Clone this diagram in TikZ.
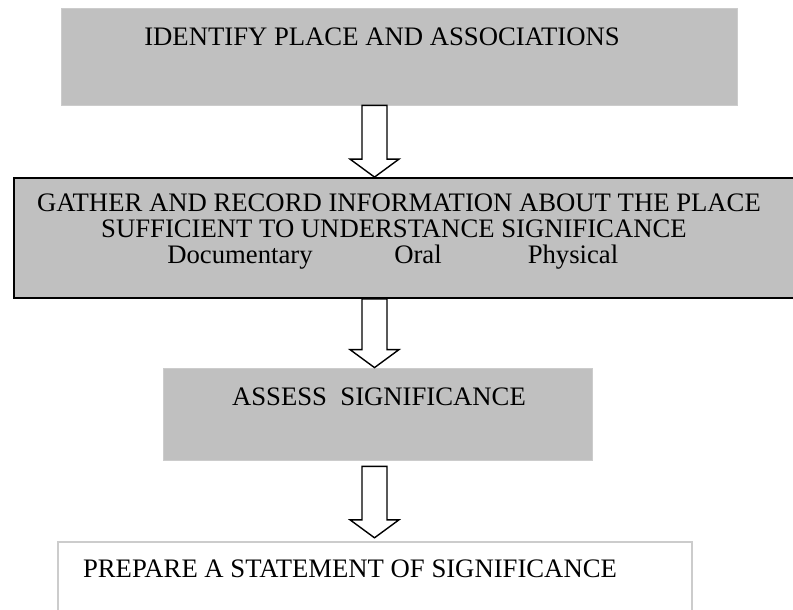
\documentclass[tikz,border=0pt]{standalone}
\usepackage{fontspec}
\setmainfont{Liberation Serif}
\usetikzlibrary{calc}

\definecolor{stagegrey}{RGB}{192,192,192}
\definecolor{edgegrey}{RGB}{204,204,204}

\newcommand{\hollowarrow}[2]{%
  \draw[flowarrow] let \p1=(#1), \p2=(#2) in
    (\x1-12.5pt,\y1) -- (\x1-12.5pt,\y2+18pt) -- (\x1-24.5pt,\y2+18pt) -- (\x2,\y2)
    -- (\x1+24.5pt,\y2+18pt) -- (\x1+12.5pt,\y2+18pt) -- (\x1+12.5pt,\y1) -- cycle;}

\begin{document}
\begin{tikzpicture}[x=1pt,y=-1pt]

\tikzset{stage/.style = {shape=rectangle,fill=stagegrey,draw=edgegrey,line width=0.8pt,inner sep=0pt}}
\tikzset{caption/.style = {inner sep=0pt,anchor=base,font=\fontsize{26.7}{25}\selectfont}}
\tikzset{flowarrow/.style = {draw=black,fill=white,line width=1.4pt,line join=miter}}
\tikzset{openbox/.style = {draw=edgegrey,line width=1.8pt}}

\useasboundingbox (0,0) rectangle (793,610);

%boxes
\node[stage, minimum width=676, minimum height=97] (identify) at (399,56.5) {};
\node[stage, draw=black, line width=1.8pt, minimum width=786, minimum height=120] (gather) at (407,238) {};
\node[stage, minimum width=429, minimum height=92] (assess) at (377.5,414) {};
\node[inner sep=0pt, minimum width=634, minimum height=73] (prepare) at (375,578.5) {};
\draw[openbox] (prepare.south west) -- (prepare.north west) -- (prepare.north east) -- (prepare.south east);

%texts
\node[caption] (identifytext) at (382,46) {IDENTIFY PLACE AND ASSOCIATIONS};
\node[caption] (gathertext) at (399,211) {GATHER AND RECORD INFORMATION ABOUT THE PLACE};
\node[caption] (sufficienttext) at (394,237) {SUFFICIENT TO UNDERSTANCE SIGNIFICANCE};
\node[caption] (documentary) at (240,263) {Documentary};
\node[caption] (oral) at (418,263) {Oral};
\node[caption] (physical) at (573,263) {Physical};
\node[caption] (assesstext) at (379,405) {ASSESS\ \ SIGNIFICANCE};
\node[caption] (preparetext) at (350,577) {PREPARE A STATEMENT OF SIGNIFICANCE};

%arrows
\coordinate (axis) at (374.5,0);
\hollowarrow{identify.south -| axis}{gather.north -| axis}
\hollowarrow{gather.south -| axis}{assess.north -| axis}
\hollowarrow{$(assess.south -| axis)+(0,6)$}{$(prepare.north -| axis)+(0,-4)$}

\end{tikzpicture}
\end{document}
